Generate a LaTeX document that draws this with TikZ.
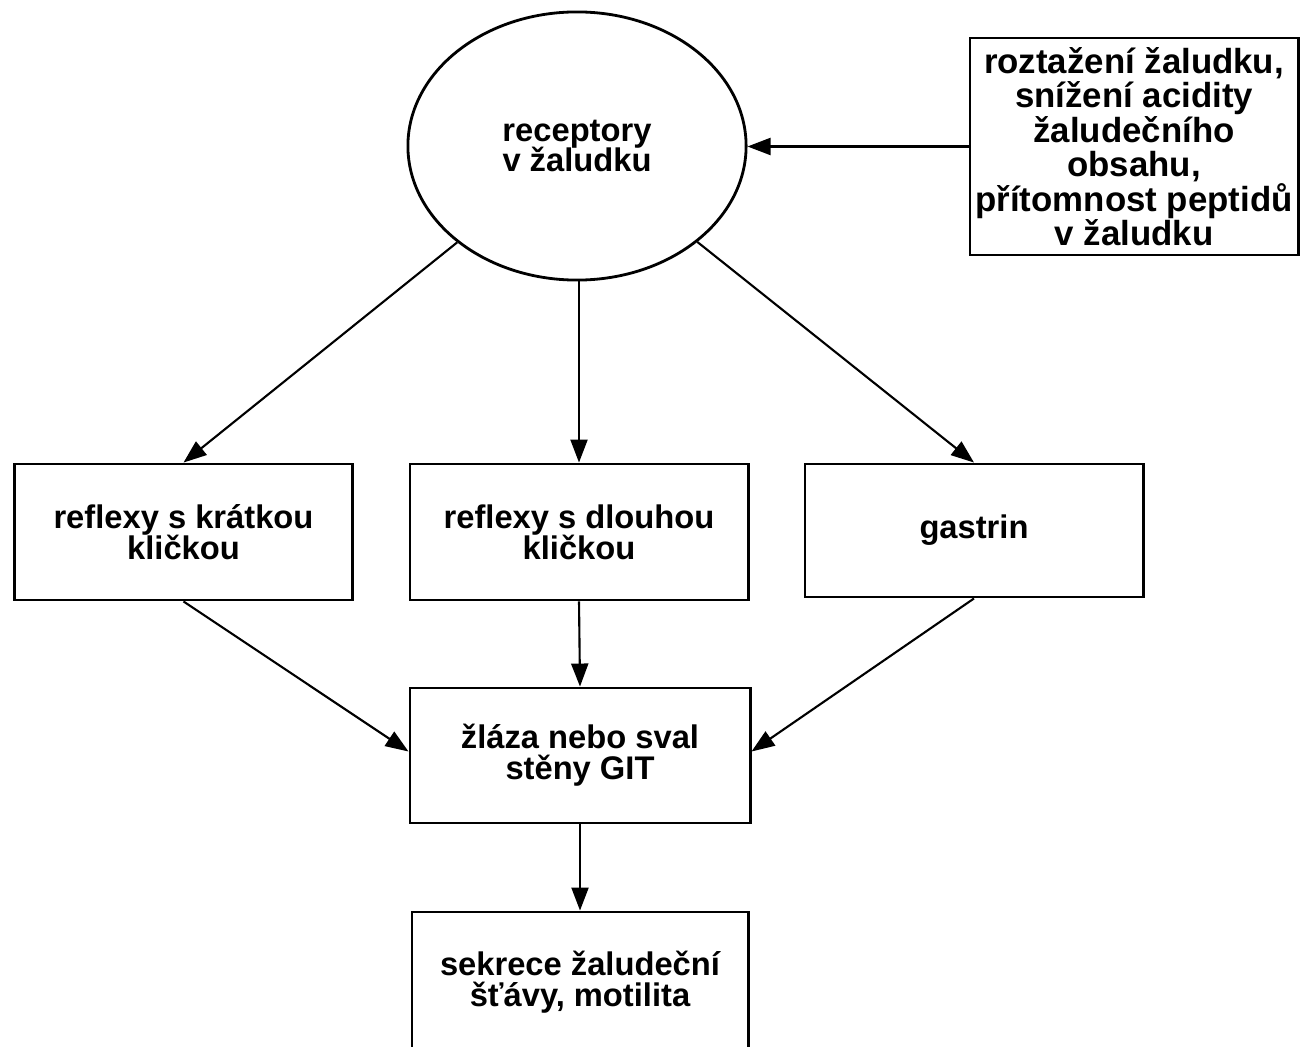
\documentclass[tikz,border=0pt]{standalone}
\usepackage{fontspec}
\setmainfont{Liberation Sans}
\usetikzlibrary{shapes,arrows.meta,positioning,calc}
\newcommand\diagfont{\bfseries\fontsize{9.3}{8.8}\selectfont\lineskiplimit=-20pt\relax}
\newcommand\condfont{\bfseries\fontsize{9.9}{9.8}\selectfont\lineskiplimit=-20pt\relax}

\begin{document}
\begin{tikzpicture}[x=0.01cm,y=-0.01cm,
    every node/.style={font=\diagfont, align=center},
    box/.style={draw, line width=0.8pt, minimum width=3.38cm, minimum height=1.36cm, inner sep=0pt},
    arr/.style={line width=0.6pt, -{Triangle[length=2.3mm,width=1.7mm]}}]
    % Frame
    \useasboundingbox (0,0) rectangle (1301,1046);
    \clip (0,0) rectangle (1301,1046);

    % Receptors and stimuli
    \node[draw, ellipse, line width=0.8pt, minimum width=3.38cm, minimum height=2.68cm, inner sep=0pt] (rec) at (577,146) {receptory\\v žaludku};
    \node[box, minimum width=3.28cm, minimum height=2.17cm, font=\condfont] (cond) at (1134,146.5)
        {roztažení žaludku,\\snížení acidity\\žaludečního\\obsahu,\\přítomnost peptidů\\v žaludku};

    % Middle row
    \node[box] (short) at (183.5,532) {reflexy s krátkou\\kličkou};
    \node[box] (long) at (579,532) {reflexy s dlouhou\\kličkou};
    \node[box, minimum height=1.33cm] (gastrin) at (974,530.5) {gastrin};

    % Effector and result
    \node[box, minimum width=3.40cm, minimum height=1.35cm] (git) at (580,755.5) {žláza nebo sval\\stěny GIT};
    \node[box, minimum width=3.36cm, minimum height=1.40cm] (secr) at (580,982) {sekrece žaludeční\\šťávy, motilita};

    % Arrows
    \draw[arr] (cond.west) -- (cond.west -| rec.east);
    \draw[arr] (rec) -- (short.north);
    \draw[arr] (rec.south -| long.north) -- (long.north);
    \draw[arr] (rec) -- (gastrin.north);
    \draw[arr] (short.south) -- ($(git.west)+(0,-4)$);
    \draw[arr] (long.south) -- (git.north);
    \draw[arr] (gastrin.south) -- ($(git.east)+(0,-4)$);
    \draw[arr] (git.south) -- (secr.north);
\end{tikzpicture}
\end{document}
